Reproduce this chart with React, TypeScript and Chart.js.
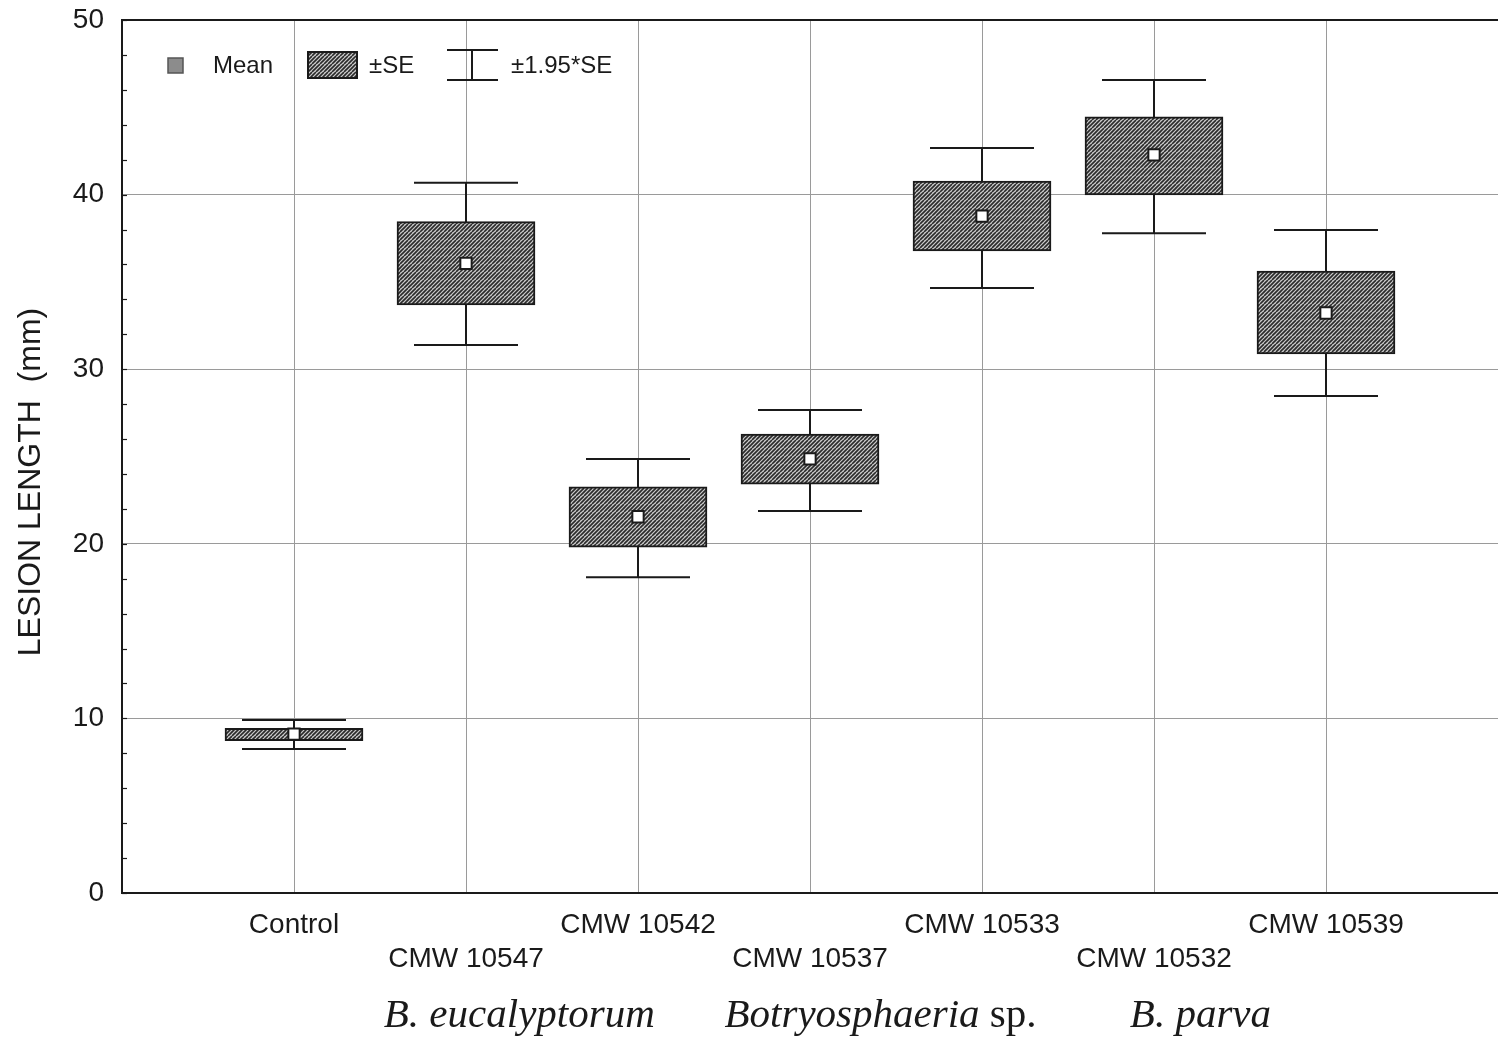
import React, { useEffect, useRef } from "react";
import { Chart, registerables } from "chart.js";

Chart.register(...registerables);

// ---- data ----
const categories = ["", "Control", "CMW 10547", "CMW 10542", "CMW 10537", "CMW 10533", "CMW 10532", "CMW 10539", ""];
const means = [null, 9.1, 36.06, 21.55, 24.86, 38.77, 42.27, 33.22, null];
const seLow = [null, 8.72, 33.68, 19.8, 23.42, 36.77, 39.98, 30.87, null];
const seHigh = [null, 9.43, 38.45, 23.27, 26.29, 40.78, 44.46, 35.62, null];
const ciLow = [null, 8.25, 31.39, 18.08, 21.88, 34.65, 37.78, 28.46, null];
const ciHigh = [null, 9.91, 40.68, 24.86, 27.66, 42.67, 46.56, 37.97, null];
const yMin = 0;
const yMax = 50;
const yStep = 10;
const yMinorStep = 2;
const yTitle = "LESION LENGTH  (mm)";
const legendLabels = ["Mean", "\u00b1SE", "\u00b11.95*SE"];
const speciesNames = ["B. eucalyptorum", "Botryosphaeria", "B. parva"];
const speciesSuffix = ["", " sp.", ""];
const speciesAt = [2.31, 4.41, 6.27];

const SANS = "'Liberation Sans', Arial, Helvetica, sans-serif";
const SERIF = "'Liberation Serif', 'Times New Roman', serif";
const INK = "#1a1a1a";
const GRID = "#9a9a9a";

function makeHatch(): CanvasPattern | string {
  const c = document.createElement("canvas");
  const s = 8;
  c.width = s;
  c.height = s;
  const g = c.getContext("2d");
  if (!g) return "#888";
  g.fillStyle = "#cccccc";
  g.fillRect(0, 0, s, s);
  g.strokeStyle = "#2a2a2a";
  g.lineWidth = 1.6;
  for (let k = -s; k <= 2 * s; k += 4) {
    g.beginPath();
    g.moveTo(k, 0);
    g.lineTo(k - s, s);
    g.stroke();
  }
  const p = g.createPattern(c, "repeat");
  return p || "#888";
}

const whiskerPlugin = {
  id: "whiskers",
  beforeDatasetsDraw(chart: any) {
    const { ctx } = chart;
    const x = chart.scales.x;
    const y = chart.scales.y;
    const capHalf = 52;
    ctx.save();
    ctx.strokeStyle = INK;
    ctx.lineWidth = 2;
    for (let i = 0; i < categories.length; i++) {
      const lo = ciLow[i];
      const hi = ciHigh[i];
      if (lo == null || hi == null) continue;
      const px = x.getPixelForValue(i);
      const yl = y.getPixelForValue(lo);
      const yh = y.getPixelForValue(hi);
      ctx.beginPath();
      ctx.moveTo(px, yl);
      ctx.lineTo(px, yh);
      ctx.moveTo(px - capHalf, yl);
      ctx.lineTo(px + capHalf, yl);
      ctx.moveTo(px - capHalf, yh);
      ctx.lineTo(px + capHalf, yh);
      ctx.stroke();
    }
    ctx.restore();
  },
};

const decorPlugin = {
  id: "decor",
  afterDraw(chart: any) {
    const { ctx, chartArea } = chart;
    const y = chart.scales.y;
    const x = chart.scales.x;
    ctx.save();
    // top frame line
    ctx.strokeStyle = INK;
    ctx.lineWidth = 2;
    ctx.beginPath();
    ctx.moveTo(chartArea.left, chartArea.top);
    ctx.lineTo(chartArea.right, chartArea.top);
    ctx.stroke();
    // minor ticks on y axis
    ctx.lineWidth = 1.2;
    for (let v = yMin; v <= yMax; v += yMinorStep) {
      const py = Math.round(y.getPixelForValue(v)) + 0.5;
      ctx.beginPath();
      ctx.moveTo(chartArea.left, py);
      ctx.lineTo(chartArea.left + 5, py);
      ctx.stroke();
    }
    // legend
    const L = chartArea.left;
    const T = chartArea.top;
    const cy = T + 45;
    ctx.font = "24px " + SANS;
    ctx.textBaseline = "middle";
    ctx.textAlign = "left";
    // mean marker
    ctx.fillStyle = "#8c8c8c";
    ctx.fillRect(L + 46, cy - 7, 15, 15);
    ctx.strokeStyle = "#555";
    ctx.lineWidth = 1.5;
    ctx.strokeRect(L + 46, cy - 7, 15, 15);
    ctx.fillStyle = INK;
    ctx.fillText(legendLabels[0], L + 91, cy + 1);
    // SE box
    const hatch = makeHatch();
    ctx.fillStyle = hatch as any;
    ctx.fillRect(L + 186, cy - 13, 49, 26);
    ctx.strokeStyle = INK;
    ctx.lineWidth = 2;
    ctx.strokeRect(L + 186, cy - 13, 49, 26);
    ctx.fillStyle = INK;
    ctx.fillText(legendLabels[1], L + 247, cy + 1);
    // whisker icon
    ctx.beginPath();
    ctx.moveTo(L + 325, cy - 15);
    ctx.lineTo(L + 376, cy - 15);
    ctx.moveTo(L + 325, cy + 15);
    ctx.lineTo(L + 376, cy + 15);
    ctx.moveTo(L + 350, cy - 15);
    ctx.lineTo(L + 350, cy + 15);
    ctx.stroke();
    ctx.fillText(legendLabels[2], L + 389, cy + 1);
    // y title
    ctx.save();
    ctx.translate(31, 482);
    ctx.rotate(-Math.PI / 2);
    ctx.font = "32px " + SANS;
    ctx.textAlign = "center";
    ctx.textBaseline = "middle";
    ctx.fillText(yTitle, 0, 0);
    ctx.restore();
    // species labels
    for (let i = 0; i < speciesNames.length; i++) {
      const cx = x.getPixelForValue(speciesAt[i]);
      ctx.font = "italic 41px " + SERIF;
      const w1 = ctx.measureText(speciesNames[i]).width;
      ctx.font = "41px " + SERIF;
      const w2 = speciesSuffix[i] ? ctx.measureText(speciesSuffix[i]).width : 0;
      const start = cx - (w1 + w2) / 2;
      ctx.textAlign = "left";
      ctx.textBaseline = "alphabetic";
      ctx.font = "italic 41px " + SERIF;
      ctx.fillText(speciesNames[i], start, 1027);
      if (speciesSuffix[i]) {
        ctx.font = "41px " + SERIF;
        ctx.fillText(speciesSuffix[i], start + w1, 1027);
      }
    }
    ctx.restore();
  },
};

export default function App() {
  const ref = useRef<HTMLCanvasElement | null>(null);
  useEffect(() => {
    document.body.style.margin = "0";
    document.body.style.overflow = "hidden";
    document.documentElement.style.overflow = "hidden";
    const canvas = ref.current;
    if (!canvas) return;
    const hatch = makeHatch();
    const chart = new Chart(canvas, {
      type: "bar",
      data: {
        labels: categories,
        datasets: [
          {
            type: "line",
            label: "Mean",
            data: means as any,
            showLine: false,
            pointStyle: "rect",
            pointRadius: 8,
            pointHoverRadius: 8,
            pointBackgroundColor: "#ffffff",
            pointBorderColor: INK,
            pointBorderWidth: 2,
            order: 0,
          } as any,
          {
            type: "bar",
            label: "\u00b1SE",
            data: seLow.map((l, i) => (l == null ? null : [l, seHigh[i] as number])) as any,
            backgroundColor: hatch as any,
            borderColor: INK,
            borderWidth: 2,
            borderSkipped: false,
            barThickness: 138,
            grouped: false,
            order: 1,
          } as any,
        ],
      },
      options: {
        animation: false,
        responsive: true,
        maintainAspectRatio: false,
        layout: { padding: { top: 20, right: 0, left: 0, bottom: 0 } },
        plugins: { legend: { display: false }, tooltip: { enabled: false } },
        scales: {
          x: {
            type: "category",
            offset: false,
            grid: { offset: false, color: GRID, lineWidth: 1, drawTicks: false },
            border: { display: true, color: INK, width: 2 },
            ticks: {
              autoSkip: false,
              maxRotation: 0,
              minRotation: 0,
              padding: 15,
              color: INK,
              font: { family: SANS, size: 28, lineHeight: 34 / 28 },
              callback: (_v: any, i: number) => {
                const lab = categories[i];
                if (!lab) return "";
                return i % 2 === 1 ? [lab] : ["", lab];
              },
            },
            afterFit: (s: any) => {
              s.height = 147;
              s.paddingLeft = 0;
              s.paddingRight = 0;
            },
          },
          y: {
            min: yMin,
            max: yMax,
            grid: { color: GRID, lineWidth: 1, drawTicks: false },
            border: { display: true, color: INK, width: 2 },
            ticks: {
              stepSize: yStep,
              padding: 18,
              color: INK,
              font: { family: SANS, size: 28 },
            },
            afterFit: (s: any) => {
              s.width = 122;
              s.paddingTop = 0;
              s.paddingBottom = 0;
            },
          },
        },
      },
      plugins: [whiskerPlugin, decorPlugin],
    });
    return () => chart.destroy();
  }, []);
  return (
    <div style={{ width: 1508, height: 1040, position: "relative", background: "#fff", overflow: "hidden" }}>
      <canvas ref={ref} />
    </div>
  );
}
